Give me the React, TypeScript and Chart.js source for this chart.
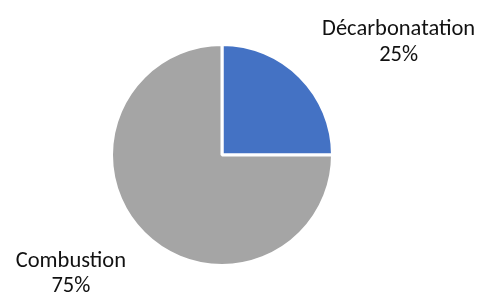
import { useEffect, useRef } from "react";
import { Chart, registerables } from "chart.js";

Chart.register(...registerables);

const categories = ["Décarbonatation", "Combustion"];
const values = [25, 75];
const percentLabels = ["25%", "75%"];
const colors = ["#4472C4", "#A5A5A5"];

// label placement relative to the slice's outer mid-point (layout only)
const labelOffsets = [
  { dx: 98.5, dy: -41.5 },
  { dx: -73, dy: 33.5 },
];
const LINE_GAP = 25.5;
const FONT = "22.5px Carlito, Calibri, Lato, sans-serif";

export default function App() {
  const ref = useRef<HTMLCanvasElement>(null);

  useEffect(() => {
    document.body.style.margin = "0";
    if (!ref.current) return;

    const labelPlugin = {
      id: "outerLabels",
      afterDatasetsDraw(chart: any) {
        const ctx = chart.ctx as CanvasRenderingContext2D;
        const meta = chart.getDatasetMeta(0);
        meta.data.forEach((arc: any, i: number) => {
          const p = arc.getProps(["x", "y", "startAngle", "endAngle", "outerRadius"], true);
          const mid = (p.startAngle + p.endAngle) / 2;
          const ax = p.x + Math.cos(mid) * p.outerRadius;
          const ay = p.y + Math.sin(mid) * p.outerRadius;
          const lx = ax + labelOffsets[i].dx;
          const ly = ay + labelOffsets[i].dy;
          ctx.save();
          ctx.font = FONT;
          ctx.fillStyle = "#111111";
          ctx.textAlign = "center";
          ctx.textBaseline = "alphabetic";
          ctx.fillText(categories[i], lx, ly);
          ctx.fillText(percentLabels[i], lx, ly + LINE_GAP);
          ctx.restore();
        });
      },
    };

    const chart = new Chart(ref.current, {
      type: "pie",
      data: {
        labels: categories,
        datasets: [
          {
            data: values,
            backgroundColor: colors,
            borderColor: "#ffffff",
            borderWidth: 3,
          },
        ],
      },
      options: {
        responsive: false,
        animation: false,
        layout: { padding: { left: 110, right: 149, top: 43, bottom: 26 } },
        plugins: {
          legend: { display: false },
          tooltip: { enabled: false },
        },
      },
      plugins: [labelPlugin],
    });
    return () => chart.destroy();
  }, []);

  return (
    <div style={{ position: "absolute", left: 0, top: 0, width: 483, height: 293, background: "#fff" }}>
      <canvas ref={ref} width={483} height={293} />
    </div>
  );
}
